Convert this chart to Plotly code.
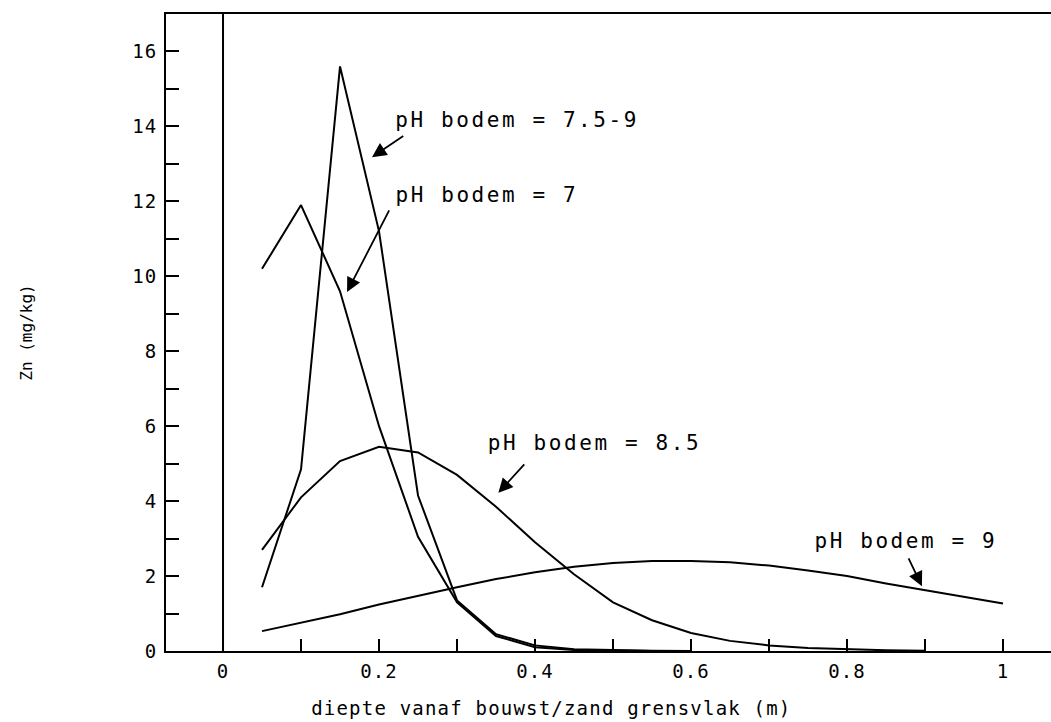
import plotly.graph_objects as go

# ---- data ----
depth = [0.05, 0.10, 0.15, 0.20, 0.25, 0.30, 0.35, 0.40, 0.45, 0.50,
         0.55, 0.60, 0.65, 0.70, 0.75, 0.80, 0.85, 0.90, 0.95, 1.00]

zn_ph7 = [10.2, 11.9, 9.6, 6.0, 3.05, 1.3, 0.4, 0.1, 0.03, 0.01, 0.0, 0.0]
zn_ph75_9 = [1.7, 4.85, 15.6, 11.2, 4.15, 1.35, 0.45, 0.15, 0.05, 0.02, 0.01, 0.0]
zn_ph85 = [2.7, 4.1, 5.07, 5.45, 5.3, 4.7, 3.85, 2.9, 2.05, 1.3,
           0.82, 0.48, 0.27, 0.15, 0.08, 0.04, 0.02, 0.01]
zn_ph9 = [0.53, 0.75, 0.98, 1.24, 1.48, 1.7, 1.92, 2.1, 2.25, 2.35,
          2.4, 2.4, 2.37, 2.28, 2.15, 2.0, 1.8, 1.62, 1.44, 1.27]

x_tickvals = [0, 0.2, 0.4, 0.6, 0.8, 1.0]
x_ticktext = ["0", "0.2", "0.4", "0.6", "0.8", "1"]
y_tickvals = [0, 2, 4, 6, 8, 10, 12, 14, 16]
y_ticktext = ["0", "2", "4", "6", "8", "10", "12", "14", "16"]

FONT = "DejaVu Sans Mono"
LINE = dict(color="black", width=2)

fig = go.Figure()
for ys, name in [(zn_ph7, "pH bodem = 7"), (zn_ph75_9, "pH bodem = 7.5-9"),
                 (zn_ph85, "pH bodem = 8.5"), (zn_ph9, "pH bodem = 9")]:
    fig.add_trace(go.Scatter(x=depth[:len(ys)], y=ys, mode="lines",
                             line=LINE, name=name, showlegend=False,
                             hoverinfo="x+y"))

fig.add_vline(x=0, line=dict(color="black", width=2))

labels = [
    # text, text-x, text-y, arrow head (x,y), arrow tail (x,y)
    ("pH bodem = 7.5-9", 0.245, 14.17, (0.191, 13.18), (0.233, 13.77)),
    ("pH bodem = 7", 0.238, 12.17, (0.159, 9.58), (0.214, 11.80)),
    ("pH bodem = 8.5", 0.360, 5.55, (0.353, 4.22), (0.388, 5.02)),
    ("pH bodem = 9", 0.776, 2.94, (0.896, 1.73), (0.878, 2.51)),
]
for txt, tx, ty, head, tail in labels:
    fig.add_annotation(x=tx, y=ty, text=txt, showarrow=False,
                       xanchor="left", yanchor="middle",
                       font=dict(family=FONT, size=21, color="black"))
    fig.add_annotation(x=head[0], y=head[1], ax=tail[0], ay=tail[1],
                       axref="x", ayref="y", text="", showarrow=True,
                       arrowhead=2, arrowsize=1.6, arrowwidth=1.8,
                       arrowcolor="black")

# x-axis title (placed as paper annotation to match the original offset)
fig.add_annotation(xref="paper", yref="paper", x=0.436, y=-0.089,
                   text="diepte vanaf bouwst/zand grensvlak (m)",
                   showarrow=False, xanchor="center", yanchor="middle",
                   font=dict(family=FONT, size=19, color="black"),
                   name="xtitle")

fig.update_xaxes(range=[-0.0731, 1.0615], tickvals=x_tickvals, ticktext=x_ticktext,
                 ticks="inside", ticklen=12, tickwidth=2, tickcolor="black",
                 minor=dict(dtick=0.1, tick0=0, ticks="inside", ticklen=12,
                            tickwidth=2, tickcolor="black"),
                 showline=True, linewidth=2, linecolor="black", mirror=True,
                 showgrid=False, zeroline=False, ticklabelstandoff=2,
                 tickfont=dict(family=FONT, size=19, color="black"))
fig.update_yaxes(range=[0, 17], tickvals=y_tickvals, ticktext=y_ticktext,
                 ticks="inside", ticklen=13, tickwidth=2, tickcolor="black",
                 minor=dict(dtick=1, tick0=0, ticks="inside", ticklen=13,
                            tickwidth=2, tickcolor="black"),
                 showline=True, linewidth=2, linecolor="black", mirror=False,
                 showgrid=False, zeroline=False, ticklabelstandoff=3,
                 tickfont=dict(family=FONT, size=19, color="black"),
                 title=dict(text="Zn (mg/kg)",
                            font=dict(family=FONT, size=16, color="black"),
                            standoff=98))

fig.update_layout(width=1051, height=722, autosize=False,
                  margin=dict(l=166, r=0, t=14, b=71),
                  plot_bgcolor="white", paper_bgcolor="white",
                  font=dict(family=FONT, color="black"))

post = """
document.querySelectorAll('.annotation').forEach(function(a){
  var t = a.querySelector('.annotation-text');
  if (t && t.textContent.indexOf('pH') === 0) { t.style.letterSpacing = '2.6px'; }
  else if (t) { t.style.letterSpacing = '1.2px'; }
});
document.querySelectorAll('.xtick text, .ytick text').forEach(function(t){t.style.letterSpacing='1px';});
"""
fig.write_html("out.html", post_script=post)
